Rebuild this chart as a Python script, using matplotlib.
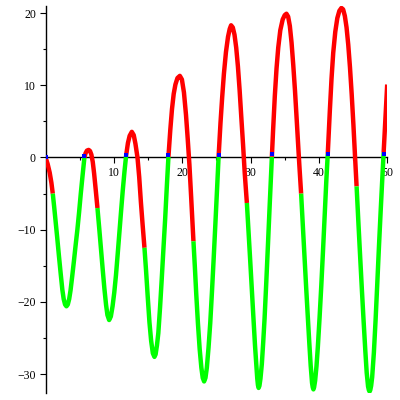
import matplotlib
matplotlib.use("Agg")
import matplotlib.pyplot as plt
import numpy as np

# curve samples, one row per half wave
x_pts = [0.00, 0.30, 0.60, 0.85, 1.05, 1.25, 1.45, 1.70, 1.95, 2.20, 2.45, 2.65, 2.85, 3.05,
         3.25, 3.45, 3.65, 3.90, 4.15, 4.40, 4.65, 4.90, 5.15, 5.40, 5.68, 5.85, 6.05, 6.30,
         6.50, 6.70, 6.90, 7.10, 7.35, 7.59, 7.85, 8.10, 8.35, 8.60, 8.85, 9.05, 9.30,
         9.55, 9.80, 10.05, 10.30, 10.55, 10.80, 11.05, 11.30, 11.55, 11.79, 12.05, 12.30, 12.62,
         12.90, 13.15, 13.45, 13.70, 13.95, 14.20, 14.47, 14.70, 14.95, 15.20, 15.45, 15.70, 15.93,
         16.10, 16.30, 16.50, 16.75, 17.00, 17.25, 17.50, 17.75, 17.98, 18.25, 18.50, 18.75, 19.00, 19.30, 19.65,
         19.95, 20.25, 20.55, 20.80, 21.05, 21.30, 21.64, 21.85, 22.05, 22.30, 22.55, 22.80, 23.00, 23.20,
         23.40, 23.60, 23.85, 24.10, 24.35, 24.60, 24.85, 25.10, 25.32, 25.60, 25.85, 26.10, 26.40, 26.70, 26.95, 27.15,
         27.40, 27.65, 27.90, 28.15, 28.40, 28.65, 28.90, 29.15, 29.46, 29.70, 29.95, 30.20, 30.45, 30.65, 30.85, 30.98, 31.08, 31.18,
         31.30, 31.45, 31.65, 31.85, 32.05, 32.30, 32.55, 32.80, 33.12, 33.30, 33.55, 33.80, 34.05, 34.35, 34.70, 35.00, 35.25,
         35.50, 35.75, 36.00, 36.25, 36.50, 36.75, 37.00, 37.15, 37.40, 37.65, 37.90, 38.15, 38.40, 38.60, 38.80, 39.00, 39.10, 39.20,
         39.30, 39.45, 39.65, 39.85, 40.10, 40.35, 40.60, 40.85, 41.10, 41.30, 41.60, 41.85, 42.10, 42.40, 42.70, 43.00, 43.30,
         43.55, 43.80, 44.05, 44.30, 44.55, 44.80, 45.05, 45.30, 45.52, 45.80, 46.05, 46.30, 46.55, 46.80, 47.00, 47.20, 47.32, 47.42,
         47.52, 47.65, 47.80, 48.05, 48.30, 48.55, 48.80, 49.05, 49.30, 49.48, 49.75, 50.00]
y_pts = [0.0, -0.9, -2.1, -3.5, -5.0, -6.8, -8.7, -11.1, -13.6, -16.0, -18.3, -19.6, -20.35, -20.6,
         -20.35, -19.6, -18.4, -16.4, -14.3, -12.1, -10.0, -7.6, -5.0, -2.6, 0.0, 0.6, 0.95, 1.05,
         0.9, 0.4, -0.6, -2.2, -4.6, -7.0, -9.8, -12.6, -15.4, -18.1, -20.4, -21.8, -22.5,
         -22.0, -20.6, -18.7, -16.3, -13.4, -10.4, -7.4, -4.5, -1.9, 0.3, 2.0, 3.0, 3.55,
         3.1, 1.9, 0.0, -2.7, -6.2, -9.3, -12.5, -15.6, -19.3, -22.8, -25.4, -27.1, -27.6,
         -27.25, -26.0, -24.3, -20.8, -16.8, -12.6, -8.5, -3.9, 0.1, 3.8, 6.7, 8.8, 10.1, 11.0, 11.3,
         10.8, 9.0, 5.9, 2.6, -1.0, -5.4, -11.6, -15.2, -18.9, -23.0, -26.5, -29.1, -30.5, -31.0,
         -30.5, -29.1, -26.3, -22.9, -18.6, -14.0, -9.2, -4.3, 0.1, 4.8, 8.4, 11.6, 14.6, 16.7, 17.8, 18.3,
         18.0, 17.0, 15.2, 12.6, 9.3, 5.5, 1.8, -2.2, -6.3, -10.2, -14.3, -18.5, -22.7, -26.0, -28.8, -30.6, -31.5, -31.9,
         -31.6, -30.6, -28.6, -25.6, -22.3, -17.3, -12.0, -6.6, 0.1, 3.8, 8.5, 12.3, 15.2, 17.6, 19.1, 19.7, 19.9,
         19.5, 18.2, 15.9, 12.8, 9.3, 5.3, 1.2, -1.2, -5.0, -9.4, -13.8, -18.2, -22.4, -25.7, -28.8, -31.2, -31.8, -32.1,
         -31.8, -30.9, -28.9, -26.2, -22.2, -17.8, -13.0, -8.0, -3.0, 0.5, 6.4, 10.9, 14.5, 17.4, 19.3, 20.3, 20.7,
         20.5, 19.6, 18.0, 15.6, 12.5, 8.8, 4.6, 0.0, -4.0, -9.3, -13.9, -18.4, -22.7, -26.8, -29.8, -31.7, -32.2, -32.4,
         -32.2, -31.6, -30.4, -27.0, -22.5, -17.4, -12.2, -7.3, -2.6, 0.7, 5.6, 10.1]

# where the curve colour changes, and the colour of each piece
break_x = [0.00, 1.05, 5.68, 7.59, 11.79, 14.47, 17.98, 21.64, 25.32, 29.46,
           33.12, 37.40, 41.30, 45.52, 49.48, 50.00]
seg_colors = ['#ff0000', '#00ff00'] * 7 + ['#ff0000']

# small blue marks on the upward crossings
blue_x = [0.00, 5.68, 11.79, 17.98, 25.32, 33.12, 41.30, 49.48]
blue_y = [0.0, 0.2, 0.3, 0.3, 0.4, 0.5, 0.5, 0.5]

x_ticks = [10, 20, 30, 40, 50]
x_minor = [5, 15, 25, 35, 45]
y_ticks = [-30, -20, -10, 0, 10, 20]
y_minor = [-25, -15, -5, 5, 15]

fig = plt.figure(figsize=(4, 4), dpi=100)
ax = fig.add_axes([0.114, 0.0175, 0.854, 0.9675])

xs = np.array(x_pts)
ys = np.array(y_pts)
for lo, hi, col in zip(break_x[:-1], break_x[1:], seg_colors):
    m = (xs >= lo) & (xs <= hi)
    ax.plot(xs[m], ys[m], color=col, lw=3.2,
            solid_capstyle='butt', solid_joinstyle='round', zorder=3)

ax.plot(blue_x, blue_y, 's', color='#0000ff', ms=2.2, mew=0, zorder=4)

ax.set_xlim(0, 50)
ax.set_ylim(-32.6, 20.97)

for s in ['top', 'right']:
    ax.spines[s].set_visible(False)
ax.spines['bottom'].set_position(('data', 0))
ax.spines['bottom'].set_zorder(2)
ax.spines['left'].set_linewidth(1.0)
ax.spines['bottom'].set_linewidth(1.0)

ax.set_xticks(x_ticks)
ax.set_xticks(x_minor, minor=True)
ax.set_yticks(y_ticks)
ax.set_yticks(y_minor, minor=True)
ax.tick_params(axis='both', which='major', direction='out', length=4, width=0.8)
ax.tick_params(axis='both', which='minor', direction='out', length=2.5, width=0.8)
ax.tick_params(axis='x', pad=3)
ax.tick_params(axis='y', pad=3)

for lab in ax.get_xticklabels() + ax.get_yticklabels():
    lab.set_fontfamily('Liberation Serif')
    lab.set_fontsize(8.5)

fig.savefig('out.png', dpi=100)
